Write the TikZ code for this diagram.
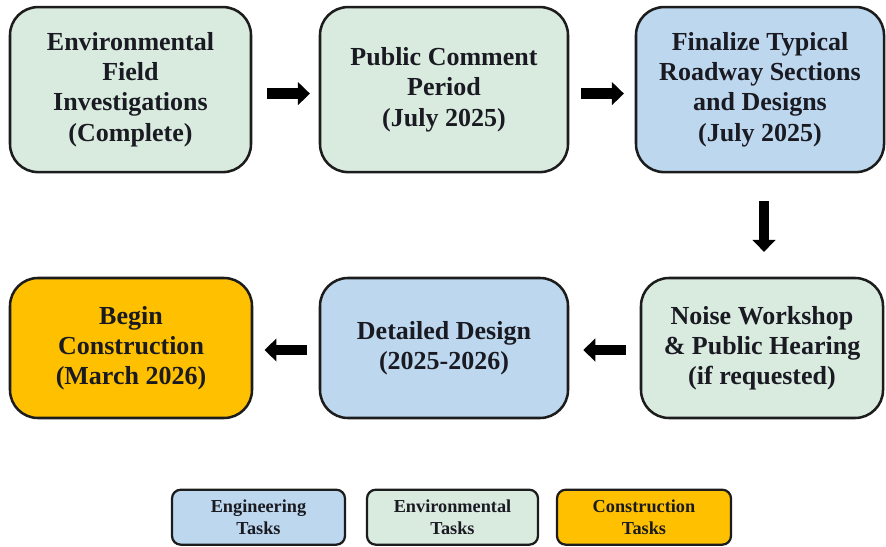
\documentclass[tikz,border=0pt]{standalone}
\usepackage{fontspec}
\setmainfont{Liberation Serif}
\usepackage{xcolor}
\usetikzlibrary{arrows.meta}

\definecolor{envgreen}{HTML}{D9EADF}
\definecolor{engblue}{HTML}{BDD7EE}
\definecolor{conorange}{HTML}{FFC000}
\definecolor{edge}{HTML}{1C1C1C}
\definecolor{ink}{HTML}{1A1A22}

\begin{document}
\begin{tikzpicture}[
    task/.style = {draw=edge, line width=1.8pt, rounded corners=0.7cm, align=center,
                   text=ink, font=\fontsize{18.5}{21.5}\selectfont\bfseries,
                   inner sep=0pt},
    key/.style = {draw=edge, line width=1.6pt, rounded corners=0.22cm, align=center,
                  text=ink, font=\fontsize{13}{16}\selectfont\bfseries,
                  minimum height=1.375cm, inner sep=0pt},
    env/.style = {fill=envgreen},
    eng/.style = {fill=engblue},
    con/.style = {fill=conorange},
    flow/.style = {-{Triangle[length=0.3cm, width=0.56cm]}, line width=0.27cm, black}]
        \useasboundingbox (0, 0) rectangle (22.15, 13.65);
        % top row
        \node[task, env, minimum width=6.025cm, minimum height=4.125cm] at (3.2625, 11.41) (field) {Environmental\\Field\\Investigations\\(Complete)};
        \node[task, env, minimum width=6.2cm, minimum height=4.125cm] at (11.1, 11.41) (comment) {Public Comment\\Period\\(July 2025)};
        \node[task, eng, minimum width=6.2cm, minimum height=4.125cm] at (19.0, 11.41) (sections) {Finalize Typical\\Roadway Sections\\and Designs\\(July 2025)};
        % bottom row
        \node[task, con, minimum width=6.05cm, minimum height=3.5cm] at (3.275, 4.95) (build) {Begin\\Construction\\(March 2026)};
        \node[task, eng, minimum width=6.2cm, minimum height=3.5cm] at (11.1, 4.95) (design) {Detailed Design\\(2025-2026)};
        \node[task, env, minimum width=6.05cm, minimum height=3.5cm] at (19.05, 4.95) (noise) {Noise Workshop\\\& Public Hearing\\(if requested)};
        % legend
        \node[key, eng, minimum width=4.325cm] at (6.4625, 0.72) (keyeng) {Engineering\\Tasks};
        \node[key, env, minimum width=4.275cm] at (11.3125, 0.72) (keyenv) {Environmental\\Tasks};
        \node[key, con, minimum width=4.35cm] at (16.1, 0.72) (keycon) {Construction\\Tasks};
        % arrows
        \draw[flow, shorten <=0.37cm, shorten >=0.22cm] ([yshift=-0.1cm]field.east) -- ([yshift=-0.1cm]comment.west);
        \draw[flow, shorten <=0.3cm, shorten >=0.27cm] ([yshift=-0.1cm]comment.east) -- ([yshift=-0.1cm]sections.west);
        \draw[flow, shorten <=0.7cm, shorten >=0.62cm] ([xshift=0.1cm]sections.south) -- ([xshift=0.1cm]sections.south |- noise.north);
        \draw[flow, shorten <=0.35cm, shorten >=0.35cm] ([yshift=-0.05cm]noise.west) -- ([yshift=-0.05cm]design.west -| design.east);
        \draw[flow, shorten <=0.3cm, shorten >=0.28cm] ([yshift=-0.05cm]design.west) -- ([yshift=-0.05cm]build.east);
\end{tikzpicture}
\end{document}
